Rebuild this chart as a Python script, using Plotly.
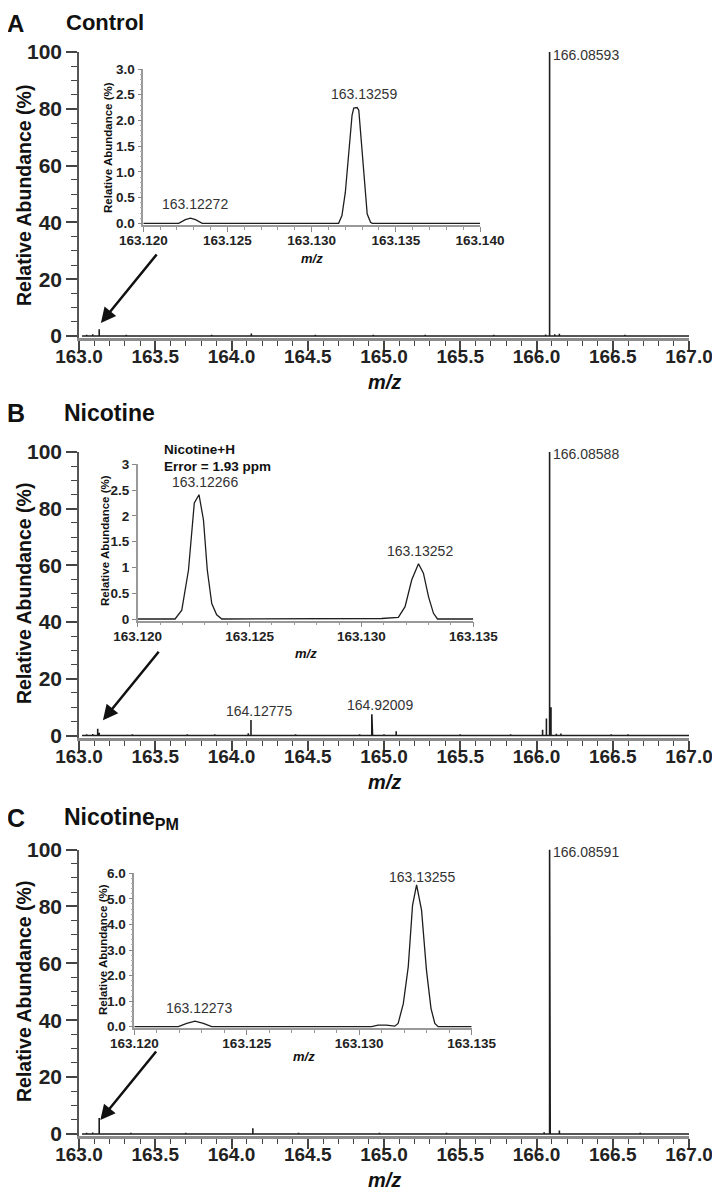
import plotly.graph_objects as go

# ---------------- DATA ----------------
# Panel A (Control) - main spectrum sticks
A_mz = [163.02, 163.05, 163.09, 163.13259, 163.17, 163.23, 163.31, 163.40, 163.47, 163.58,
        163.66, 163.78, 163.87, 163.95, 164.03, 164.13, 164.21, 164.30, 164.42, 164.55,
        164.63, 164.74, 164.86, 164.93, 165.04, 165.15, 165.27, 165.38, 165.49, 165.61,
        165.72, 165.84, 165.95, 166.03, 166.06, 166.08593, 166.12, 166.15, 166.24, 166.36,
        166.47, 166.58, 166.69, 166.80, 166.91, 167.0]
A_int = [0, 0.4, 0.6, 2.4, 0.3, 0.3, 0.4, 0.3, 0.3, 0.3,
         0.3, 0.3, 0.4, 0.3, 0.3, 0.9, 0.3, 0.3, 0.3, 0.4,
         0.3, 0.3, 0.3, 0.4, 0.3, 0.3, 0.4, 0.3, 0.3, 0.3,
         0.4, 0.3, 0.3, 0.3, 0.5, 100, 0.6, 0.8, 0.3, 0.3,
         0.3, 0.4, 0.3, 0.3, 0.3, 0]
A_inset_mz = [163.1200, 163.1221, 163.1225, 163.1228, 163.1231, 163.1235, 163.1316, 163.1318,
              163.1320, 163.1322, 163.1324, 163.1325, 163.1327, 163.1328, 163.1330, 163.1332,
              163.1333, 163.1335, 163.1336, 163.1400]
A_inset_int = [0, 0, 0.07, 0.10, 0.07, 0, 0, 0.15,
               0.6, 1.4, 2.1, 2.24, 2.25, 2.2, 1.4, 0.5,
               0.18, 0.02, 0, 0]

# Panel B (Nicotine)
B_mz = [163.02, 163.05, 163.09, 163.12266, 163.13252, 163.18, 163.26, 163.35, 163.44, 163.53,
        163.62, 163.71, 163.80, 163.89, 163.98, 164.06, 164.11, 164.12775, 164.20, 164.31,
        164.42, 164.53, 164.64, 164.75, 164.84, 164.92009, 164.925, 165.00, 165.08, 165.17,
        165.28, 165.39, 165.50, 165.61, 165.72, 165.83, 165.94, 166.04, 166.065, 166.08588,
        166.095, 166.13, 166.16, 166.27, 166.38, 166.49, 166.60, 166.71, 166.82, 166.93, 167.0]
B_int = [0, 0.4, 0.5, 2.4, 1.0, 0.3, 0.3, 0.4, 0.3, 0.3,
         0.3, 0.4, 0.3, 0.4, 0.3, 0.3, 0.8, 5.5, 0.3, 0.3,
         0.4, 0.3, 0.3, 0.3, 0.4, 7.5, 4.0, 0.4, 1.5, 0.3,
         0.3, 0.3, 0.4, 0.3, 0.3, 0.4, 0.3, 2.0, 6.0, 100,
         10.0, 0.6, 0.7, 0.3, 0.3, 0.4, 0.4, 0.3, 0.3, 0.3, 0]
B_inset_mz = [163.1200, 163.12167, 163.12197, 163.12227, 163.12253, 163.12274, 163.12294, 163.12311,
              163.12331, 163.12353, 163.12376, 163.1308, 163.1309, 163.13165, 163.13195, 163.13225,
              163.13255, 163.13277, 163.13300, 163.13322, 163.1334, 163.1350]
B_inset_int = [0, 0, 0.17, 0.95, 2.25, 2.41, 1.92, 0.95,
               0.3, 0.08, 0, 0, 0.01, 0.03, 0.24, 0.76,
               1.07, 0.89, 0.43, 0.11, 0, 0]

# Panel C (Nicotine PM)
C_mz = [163.02, 163.05, 163.09, 163.12273, 163.13255, 163.17, 163.25, 163.34, 163.43, 163.52,
        163.61, 163.70, 163.79, 163.88, 163.97, 164.05, 164.14, 164.22, 164.33, 164.44,
        164.55, 164.66, 164.77, 164.88, 164.97, 165.08, 165.19, 165.30, 165.41, 165.52,
        165.63, 165.74, 165.85, 165.96, 166.05, 166.08591, 166.09, 166.15, 166.24, 166.35,
        166.46, 166.57, 166.68, 166.79, 166.90, 167.0]
C_int = [0, 0.4, 0.5, 0.3, 5.6, 0.3, 0.3, 0.4, 0.3, 0.3,
         0.3, 0.4, 0.3, 0.3, 0.3, 0.3, 2.0, 0.3, 0.3, 0.4,
         0.3, 0.3, 0.3, 0.3, 0.4, 0.3, 0.3, 0.3, 0.4, 0.3,
         0.3, 0.3, 0.3, 0.3, 0.6, 100, 5.0, 1.2, 0.3, 0.3,
         0.3, 0.3, 0.4, 0.3, 0.3, 0]
C_inset_mz = [163.1200, 163.12196, 163.12233, 163.1227, 163.12307, 163.12344, 163.13055, 163.13084,
              163.13121, 163.13158, 163.13173, 163.13196, 163.13218, 163.13237, 163.13255, 163.13277,
              163.13299, 163.13319, 163.13336, 163.13351, 163.1350]
C_inset_int = [0, 0, 0.13, 0.22, 0.13, 0, 0, 0.06,
               0.06, 0.02, 0.13, 0.9, 2.35, 4.75, 5.55, 4.56,
               2.2, 0.72, 0.13, 0, 0]

main_xticks = [163.0, 163.5, 164.0, 164.5, 165.0, 165.5, 166.0, 166.5, 167.0]

# ---------------- FIGURE ----------------
# the page body adds an 8px margin, so the figure is 16px smaller and shifted by 8px
PAD = 8
W, H = 720 - 2 * PAD, 1200 - 2 * PAD
def px(x): return (x - PAD) / W
def py(y): return 1 - (y - PAD) / H

SANS = "Liberation Sans, Arial, Helvetica"
LINE = "#1e1e1e"

def sticks(mz, inten):
    xs, ys = [], []
    for m, h in zip(mz, inten):
        xs += [m, m, m]
        ys += [0, h, 0]
    return xs, ys

fig = go.Figure()

panels = [
    dict(mz=A_mz, it=A_int, imz=A_inset_mz, iit=A_inset_int),
    dict(mz=B_mz, it=B_int, imz=B_inset_mz, iit=B_inset_int),
    dict(mz=C_mz, it=C_int, imz=C_inset_mz, iit=C_inset_int),
]
ax_ids = [("x", "y", "x2", "y2"), ("x3", "y3", "x4", "y4"), ("x5", "y5", "x6", "y6")]

for p, (mx, my, ix, iy) in zip(panels, ax_ids):
    xs, ys = sticks(p["mz"], p["it"])
    fig.add_trace(go.Scatter(x=xs, y=ys, mode="lines", xaxis=mx, yaxis=my,
                             line=dict(color=LINE, width=1.6), hoverinfo="skip"))
    fig.add_trace(go.Scatter(x=p["imz"], y=p["iit"], mode="lines", xaxis=ix, yaxis=iy,
                             line=dict(color=LINE, width=1.3), hoverinfo="skip"))

# main axis geometry (page pixels): (y of 100, y of 0)
main_geo = [(52, 336), (452, 735.5), (849.5, 1134)]
YMIN = -0.8

def main_y_domain(top, zero):
    ppu = (zero - top) / 100.0
    bottom = zero - YMIN * ppu
    return [py(bottom), py(top)]

X_LEFT, X_RIGHT = 79, 689
xdom_main = [px(X_LEFT), px(X_RIGHT)]

def main_xaxis(anchor):
    return dict(domain=xdom_main, range=[163.0, 167.0], tickmode="array",
                tickvals=main_xticks, ticktext=[f"{v:.1f}" for v in main_xticks],
                ticks="outside", ticklen=10, tickwidth=1.5, tickcolor="#444",
                ticklabelstandoff=-11, ticklabeloverflow="allow",
                showline=True, linecolor="#8c8c8c", linewidth=3, showgrid=False,
                zeroline=False, anchor=anchor, automargin=False,
                minor=dict(dtick=0.1, tick0=163.0, ticks="outside", ticklen=5,
                           tickwidth=1.3, tickcolor="#444", showgrid=False),
                tickfont=dict(family=SANS, size=19, color="#222", weight="bold"))

def main_yaxis(anchor, dom):
    return dict(domain=dom, range=[YMIN, 100], dtick=20, tick0=0,
                ticks="outside", ticklen=11, tickwidth=1.5, tickcolor="#444",
                showline=True, linecolor="#555", linewidth=1.5, showgrid=False,
                zeroline=False, anchor=anchor, automargin=False,
                minor=dict(dtick=5, tick0=0, ticks="outside", ticklen=6,
                           tickwidth=1.2, tickcolor="#444", showgrid=False),
                tickfont=dict(family=SANS, size=21, color="#222", weight="bold"))

inset_geo = [
    dict(xl=143.3, xr=480.0, xr_=[163.120, 163.140], top=69, zero=223.3, ymax=3.0,
         dtick=0.5, minor=0.1, fmt=".1f"),
    dict(xl=137.7, xr=473.3, xr_=[163.120, 163.135], top=464.3, zero=619, ymax=3.0,
         dtick=0.5, minor=None, fmt=""),
    dict(xl=134.3, xr=471.7, xr_=[163.120, 163.135], top=873.3, zero=1026.7, ymax=6.0,
         dtick=1.0, minor=0.2, fmt=".1f"),
]

layout_axes = {}
for g, (mx, my, ix, iy), (top, zero) in zip(inset_geo, ax_ids, main_geo):
    mxn = "xaxis" + mx[1:]
    myn = "yaxis" + my[1:]
    ixn = "xaxis" + ix[1:]
    iyn = "yaxis" + iy[1:]
    layout_axes[mxn] = main_xaxis(my)
    layout_axes[myn] = main_yaxis(mx, main_y_domain(top, zero))
    ymin = -0.01 * g["ymax"]
    ppu = (g["zero"] - g["top"]) / g["ymax"]
    bottom = g["zero"] - ymin * ppu
    layout_axes[ixn] = dict(domain=[px(g["xl"]), px(g["xr"])], range=g["xr_"], dtick=0.005,
                            tick0=163.12, tickformat=".3f", ticks="outside", ticklen=5,
                            tickwidth=1.2, tickcolor="#888", showline=True, linecolor="#999",
                            linewidth=1.8, showgrid=False, zeroline=False, anchor=iy,
                            automargin=False, ticklabelstandoff=-3,
                            minor=dict(dtick=0.001, tick0=163.12, ticks="outside", ticklen=3,
                                       tickwidth=1, tickcolor="#999", showgrid=False),
                            tickfont=dict(family=SANS, size=13.5, color="#222", weight="bold"))
    yax = dict(domain=[py(bottom), py(g["top"])], range=[ymin, g["ymax"]], dtick=g["dtick"],
               tick0=0, ticks="outside", ticklen=4, tickwidth=1.2, tickcolor="#888",
               showline=True, linecolor="#999", linewidth=1.5, showgrid=False,
               zeroline=False, anchor=ix, automargin=False,
               tickfont=dict(family=SANS, size=13.5, color="#222", weight="bold"))
    if g["fmt"]:
        yax["tickformat"] = g["fmt"]
    if g["minor"]:
        yax["minor"] = dict(dtick=g["minor"], tick0=0, ticks="outside", ticklen=2,
                            tickwidth=1, tickcolor="#aaa", showgrid=False)
    layout_axes[iyn] = yax

fig.update_layout(width=W, height=H, margin=dict(l=0, r=0, t=0, b=0, autoexpand=False),
                  paper_bgcolor="white", plot_bgcolor="rgba(0,0,0,0)",
                  showlegend=False, **layout_axes)

ann = []
def paper_text(x, y, text, size, family=SANS, xanchor="left", angle=0, color="#111",
               yanchor="middle"):
    ann.append(dict(x=px(x), y=py(y), xref="paper", yref="paper", text=text, showarrow=False,
                    xanchor=xanchor, yanchor=yanchor, textangle=angle,
                    font=dict(family=family, size=size, color=color)))

# panel titles (top one kept inside the drawable area)
paper_text(5, 8, "<b>A</b>", 24, yanchor="top")
paper_text(64, 8, "<b>Control</b>", 22, yanchor="top")
paper_text(5, 413, "<b>B</b>", 25)
paper_text(62, 413, "<b>Nicotine</b>", 23)
paper_text(5, 818, "<b>C</b>", 25)
paper_text(62, 818, "<b>Nicotine<sub>PM</sub></b>", 23)

# main y titles and x titles
for yc in [196, 594, 992]:
    paper_text(24, yc, "<b>Relative Abundance (%)</b>", 19.5, xanchor="center", angle=-90)
for yc in [382, 782, 1180]:
    paper_text((X_LEFT + X_RIGHT) / 2, yc, "<b><i>m/z</i></b>", 20, xanchor="center")

# inset titles
for (xc, yc) in [(108, 148), (105, 541), (103, 950)]:
    paper_text(xc, yc, "<b>Relative Abundance (%)</b>", 11.5, xanchor="center", angle=-90)
for (xc, yc) in [(312, 259), (306, 653), (304, 1056)]:
    paper_text(xc, yc, "<b><i>m/z</i></b>", 13, xanchor="center")

# Nicotine+H note (page coordinates, above the inset's range)
paper_text(162, 449, "<b>Nicotine+H</b>", 13.5)
paper_text(162, 466, "<b>Error = 1.93 ppm</b>", 13.5)

def data_text(xref, yref, x, y, text, size=14, xanchor="center", xshift=0, color="#333"):
    ann.append(dict(x=x, y=y, xref=xref, yref=yref, text=text,
                    showarrow=False, xanchor=xanchor, yanchor="middle", xshift=xshift,
                    font=dict(family=SANS, size=size, color=color)))

# main peak labels
data_text("x", "y", 166.08593, 98.9, "166.08593", xanchor="left", xshift=1)
data_text("x3", "y3", 166.08588, 99.3, "166.08588", xanchor="left", xshift=1)
data_text("x3", "y3", 164.12775, 8.6, "164.12775", xshift=8)
data_text("x3", "y3", 164.92009, 10.8, "164.92009", xshift=8)
data_text("x5", "y5", 166.08591, 99.0, "166.08591", xanchor="left", xshift=1)

# inset peak labels
data_text("x2", "y2", 163.1331, 2.52, "163.13259")
data_text("x2", "y2", 163.1231, 0.37, "163.12272")
data_text("x4", "y4", 163.1230, 2.66, "163.12266")
data_text("x4", "y4", 163.13262, 1.31, "163.13252")
data_text("x6", "y6", 163.13277, 5.87, "163.13255")
data_text("x6", "y6", 163.12288, 0.74, "163.12273")

# arrows pointing at the zoomed region
for xr, yr, tx, ty in [("x", "y", 163.1436, 4.6), ("x3", "y3", 163.157, 5.4), ("x5", "y5", 163.14, 4.9)]:
    ann.append(dict(x=tx, y=ty, xref=xr, yref=yr, ax=57, ay=-70, text="", showarrow=True,
                    arrowhead=2, arrowsize=1.2, arrowwidth=2.5, arrowcolor="#111", standoff=0))

fig.update_layout(annotations=ann)
fig.write_html("out.html")
